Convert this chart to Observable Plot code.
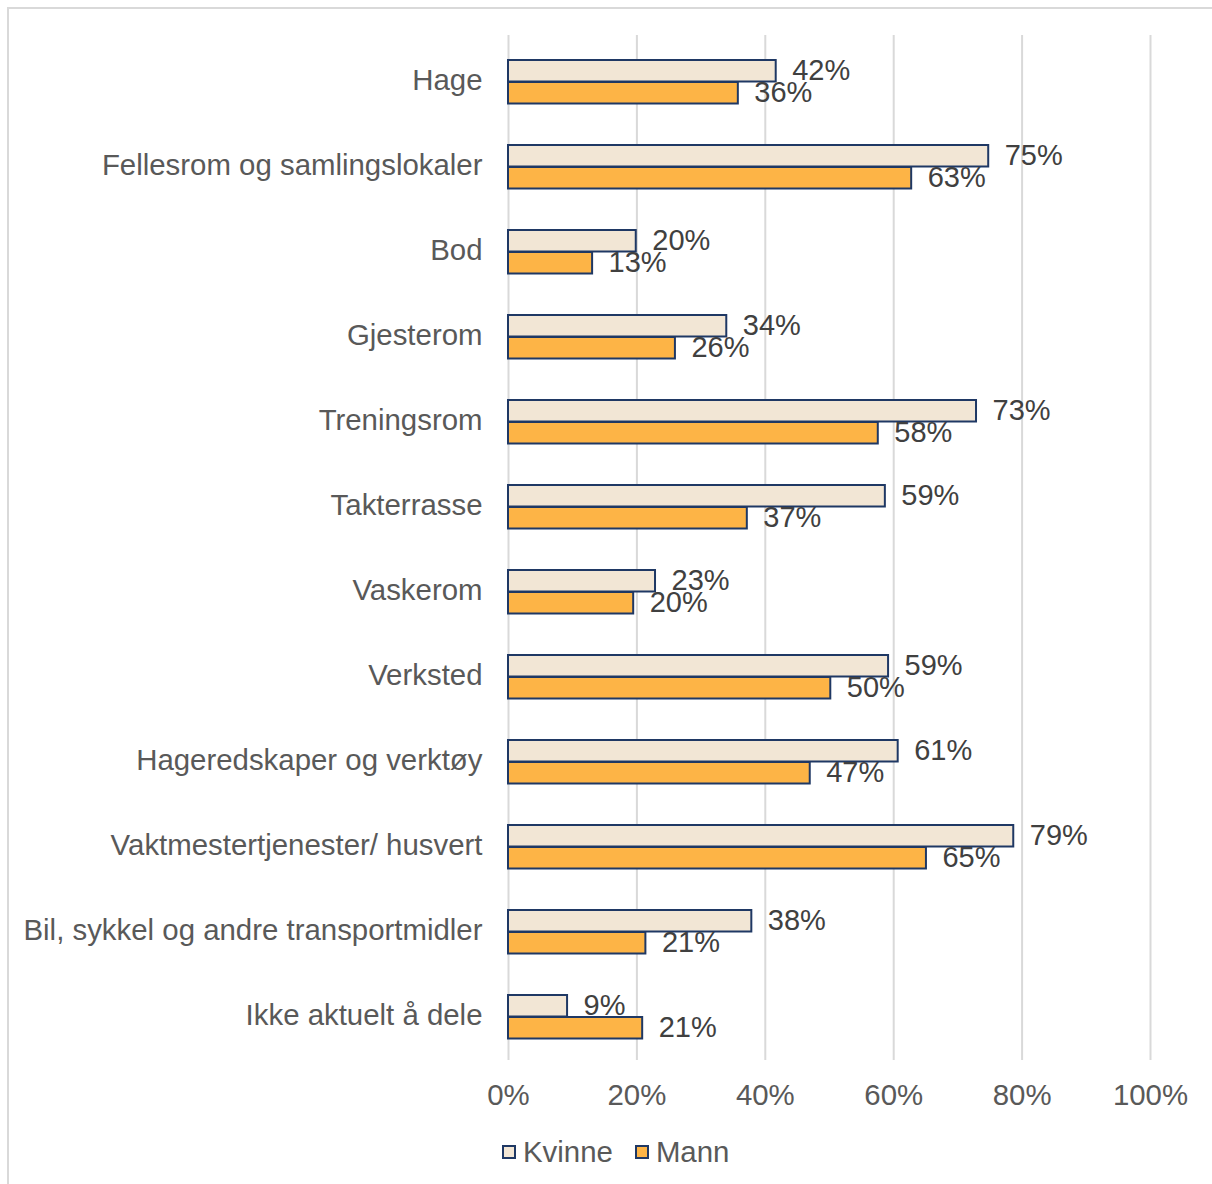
<!DOCTYPE html>
<html>
<head>
<meta charset="utf-8">
<script src="https://cdn.jsdelivr.net/npm/d3@7"></script>
<script src="https://cdn.jsdelivr.net/npm/@observablehq/plot@0.6"></script>
<style>
  html, body { margin: 0; padding: 0; background: #fff; }
  body { width: 1212px; height: 1184px; position: relative; overflow: hidden; font-family: "Liberation Sans", Arial, sans-serif; }
  #frame { position: absolute; left: 7px; top: 7px; width: 1220px; height: 1200px; border-left: 2px solid #d9d9d9; border-top: 2px solid #d9d9d9; box-sizing: border-box; }
  #chart { position: absolute; left: 0; top: 0; }
  #legend { position: absolute; left: 502px; top: 1135px; display: flex; align-items: center; font-size: 29.4px; color: #595959; }
  .item { display: flex; align-items: center; margin-right: 22px; }
  .sw { width: 10px; height: 10px; border: 2px solid #1f3864; margin-right: 7px; }
</style>
</head>
<body>
<div id="frame"></div>
<div id="chart"></div>
<div id="legend"></div>
<script>
const categories = [
  "Hage",
  "Fellesrom og samlingslokaler",
  "Bod",
  "Gjesterom",
  "Treningsrom",
  "Takterrasse",
  "Vaskerom",
  "Verksted",
  "Hageredskaper og verktøy",
  "Vaktmestertjenester/ husvert",
  "Bil, sykkel og andre transportmidler",
  "Ikke aktuelt å dele"
];
const kvinne = [41.7, 74.8, 19.9, 34.0, 72.9, 58.7, 22.9, 59.2, 60.7, 78.7, 37.9, 9.2];
const mann   = [35.8, 62.8, 13.1, 26.0, 57.6, 37.2, 19.5, 50.2, 47.0, 65.1, 21.4, 20.9];
const series = ["Kvinne", "Mann"];
const colors = {Kvinne: "#f2e6d5", Mann: "#fdb446"};
const xTicks = [0, 20, 40, 60, 80, 100];

const rowsK = categories.map((c, i) => ({cat: c, v: kvinne[i], s: "Kvinne"}));
const rowsM = categories.map((c, i) => ({cat: c, v: mann[i], s: "Mann"}));

const chart = Plot.plot({
  width: 1212,
  height: 1125,
  marginLeft: 508,
  marginRight: 62,
  marginTop: 35,
  marginBottom: 65,
  style: {fontFamily: "'Liberation Sans', Arial, sans-serif", fontSize: "29.4px", background: "transparent"},
  x: {domain: [0, 100], ticks: xTicks, tickFormat: d => d + "%", tickSize: 0, tickPadding: 24, label: null},
  y: {domain: categories, padding: 0, tickSize: 0, tickPadding: 26, label: null},
  marks: [
    Plot.ruleX(xTicks, {x: d => d, stroke: "#d9d9d9", strokeWidth: 2, strokeOpacity: 1}),
    Plot.barX(rowsK, {x: "v", y: "cat", fill: colors.Kvinne, stroke: "#1f3864", strokeWidth: 2, insetTop: 22, insetBottom: 41.5}),
    Plot.barX(rowsM, {x: "v", y: "cat", fill: colors.Mann, stroke: "#1f3864", strokeWidth: 2, insetTop: 44, insetBottom: 19.5}),
    Plot.text(rowsK, {x: "v", y: "cat", text: d => Math.round(d.v) + "%", dx: 16, dy: -10, textAnchor: "start", fill: "#404040", fontSize: 29}),
    Plot.text(rowsM, {x: "v", y: "cat", text: d => Math.round(d.v) + "%", dx: 16, dy: 12, textAnchor: "start", fill: "#404040", fontSize: 29})
  ]
});
chart.querySelectorAll('[aria-label="x-axis tick label"], [aria-label="y-axis tick label"]').forEach(g => g.setAttribute("fill", "#595959"));
document.getElementById("chart").appendChild(chart);

const legend = document.getElementById("legend");
series.forEach(s => {
  const item = document.createElement("div");
  item.className = "item";
  const sw = document.createElement("div");
  sw.className = "sw";
  sw.style.background = colors[s];
  const lab = document.createElement("span");
  lab.textContent = s;
  item.appendChild(sw);
  item.appendChild(lab);
  legend.appendChild(item);
});
</script>
</body>
</html>
